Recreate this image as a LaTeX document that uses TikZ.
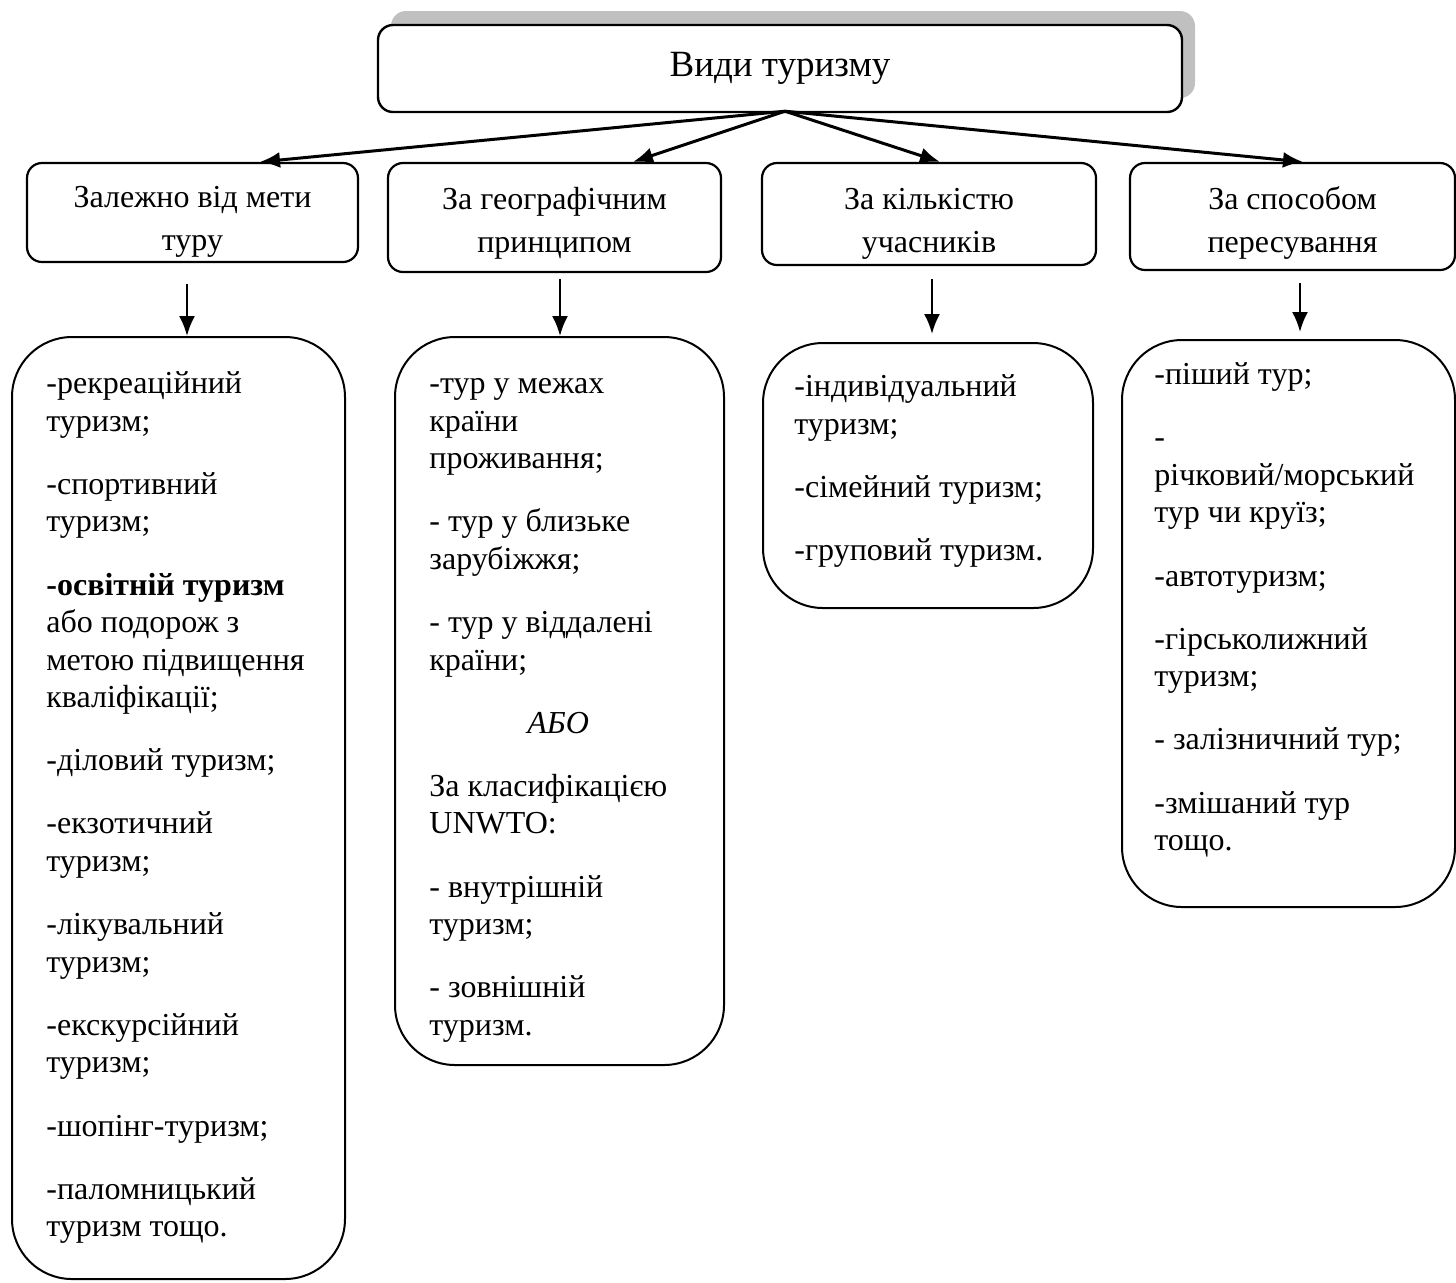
\documentclass[tikz,border=0pt]{standalone}
\usepackage{fontspec}
\setmainfont{Liberation Serif}
\usepackage{tikz}
\usetikzlibrary{positioning,arrows.meta,shadows}
\definecolor{ShadowGray}{HTML}{C0C0C0}
\newcommand{\itemgap}{\\[12.85pt]}
\newcommand{\twolines}[3]{\rule{0pt}{#1}#2\\#3\rule[-6pt]{0pt}{0pt}}

\begin{document}
\begin{tikzpicture}[x=0.5pt, y=-0.5pt,
    headbox/.style={draw, line width=1.1pt, fill=white, rounded corners=7.5pt, align=center, inner sep=0pt, font=\fontsize{16}{21.5}\selectfont},
    listbox/.style={draw, line width=1pt, rounded corners=30pt, inner sep=0pt},
    listtext/.style={anchor=north west, align=left, inner sep=0pt, font=\fontsize{16}{18.75}\selectfont},
    arr/.style={line width=1.2pt, -{Latex[length=10pt,width=8pt]}}]
      \useasboundingbox (0,0) rectangle (1456,1282);
      % Title
      \node[headbox, line width=1.2pt, minimum width=402pt, minimum height=43.5pt,
            font=\fontsize{18.5}{22}\selectfont,
            drop shadow={shadow xshift=6.5pt, shadow yshift=7pt, fill=ShadowGray, opacity=1}]
            (title) at (780,68.5) {Види туризму};
      % Classification boxes
      \node[headbox, minimum width=165.5pt, minimum height=49.5pt] (head1) at (192.5,212.5) {\twolines{22pt}{Залежно від мети}{туру}};
      \node[headbox, minimum width=166.5pt, minimum height=54.5pt] (head2) at (554.5,217.5) {\twolines{19.5pt}{За географічним}{принципом}};
      \node[headbox, minimum width=167pt, minimum height=51pt] (head3) at (929,214) {\twolines{23pt}{За кількістю}{учасників}};
      \node[headbox, minimum width=162.5pt, minimum height=53.5pt] (head4) at (1292.5,216.5) {\twolines{20.5pt}{За способом}{пересування}};
      % List boxes
      \node[listbox, minimum width=166.5pt, minimum height=471pt] (listA) at (178.5,808) {};
      \node[listbox, minimum width=164.5pt, minimum height=364pt] (listB) at (559.5,701) {};
      \node[listbox, minimum width=165pt, minimum height=132.5pt] (listC) at (928,475.5) {};
      \node[listbox, minimum width=166.5pt, minimum height=283.5pt] (listD) at (1288.5,623.5) {};
      % List texts
      \node[listtext] (textA) at ([xshift=17.5pt, yshift=-15.5pt]listA.north west)
        {\strut-рекреаційний\\туризм;\itemgap
         -спортивний\\туризм;\itemgap
         \textbf{-освітній туризм}\\або подорож з\\метою підвищення\\кваліфікації;\itemgap
         -діловий туризм;\itemgap
         -екзотичний\\туризм;\itemgap
         -лікувальний\\туризм;\itemgap
         -екскурсійний\\туризм;\itemgap
         -шопінг-туризм;\itemgap
         -паломницький\\туризм тощо.};
      \node[listtext] (textB) at ([xshift=17.5pt, yshift=-15.5pt]listB.north west)
        {\strut-тур у межах\\країни\\проживання;\itemgap
         - тур у близьке\\зарубіжжя;\itemgap
         - тур у віддалені\\країни;\itemgap
         \hspace*{49pt}\textit{АБО}\itemgap
         За класифікацією\\UNWTO:\itemgap
         - внутрішній\\туризм;\itemgap
         - зовнішній\\туризм.};
      \node[listtext] (textC) at ([xshift=16pt, yshift=-14pt]listC.north west)
        {\strut-індивідуальний\\туризм;\itemgap
         -сімейний туризм;\itemgap
         -груповий туризм.};
      \node[listtext] (textD) at ([xshift=16.5pt, yshift=-9.5pt]listD.north west)
        {\strut-піший тур;\itemgap
         -\\річковий/морський\\тур чи круїз;\itemgap
         -автотуризм;\itemgap
         -гірськолижний\\туризм;\itemgap
         - залізничний тур;\itemgap
         -змішаний тур\\тощо.};
      % Arrows from the title
      \coordinate (hub) at ([xshift=2.5pt, yshift=1pt]title.south);
      \draw[arr, line width=1.5pt] (hub) -- ([xshift=33.75pt]head1.north);
      \draw[arr, line width=1.5pt] (hub) -- ([xshift=39.25pt]head2.north);
      \draw[arr, line width=1.5pt] (hub) -- ([xshift=5.5pt]head3.north);
      \draw[arr, line width=1.5pt] (hub) -- ([xshift=5.25pt]head4.north);
      % Arrows down to the lists
      \coordinate (a1) at ([xshift=-2.75pt, yshift=-10.5pt]head1.south);
      \coordinate (a2) at ([xshift=2.75pt, yshift=-3pt]head2.south);
      \coordinate (a3) at ([xshift=1.5pt, yshift=-6.5pt]head3.south);
      \coordinate (a4) at ([xshift=3.75pt, yshift=-6pt]head4.south);
      \path (a3 |- listC.north) ++(0,-8) coordinate (e3);
      \path (a4 |- listD.north) ++(0,-7) coordinate (e4);
      \draw[arr] (a1) -- (a1 |- listA.north);
      \draw[arr] (a2) -- (a2 |- listB.north);
      \draw[arr] (a3) -- (e3);
      \draw[arr] (a4) -- (e4);
\end{tikzpicture}
\end{document}
